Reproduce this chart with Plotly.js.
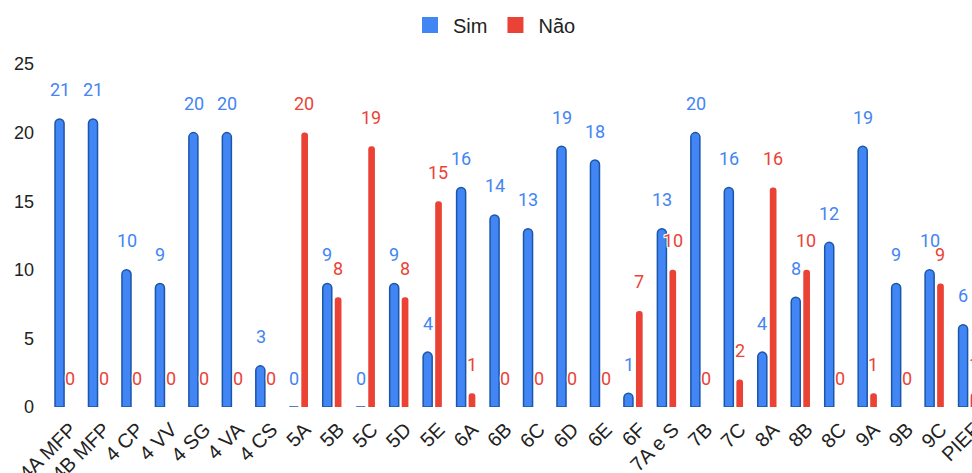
<!DOCTYPE html>
<html>
<head>
<meta charset="utf-8">
<script src="https://cdn.plot.ly/plotly-3.0.1.min.js"></script>
<style>
html,body{margin:0;padding:0;overflow:hidden;background:#fff;width:972px;height:473px;}
#chart{width:1000px;height:473px;}
</style>
</head>
<body>
<div id="chart"></div>
<script>
const categories = ["4A MFP","4B MFP","4 CP","4 VV","4 SG","4 VA","4 CS","5A","5B","5C","5D","5E","6A","6B","6C","6D","6E","6F","7A e S","7B","7C","8A","8B","8C","9A","9B","9C","PIEF"];
const simValues = [21,21,10,9,20,20,3,0,9,0,9,4,16,14,13,19,18,1,13,20,16,4,8,12,19,9,10,6];
const naoValues = [0,0,0,0,0,0,0,20,8,19,8,15,1,0,0,0,0,7,10,0,2,16,10,0,1,0,9,1];
const seriesNames = ["Sim","Não"];

const BLUE = "#4285f4", BLUE_DARK = "#1b56a8", RED = "#ea4335";
const halo = "1px 1px 0 #fff, -1px -1px 0 #fff, 1px -1px 0 #fff, -1px 1px 0 #fff, 0 1px 0 #fff, 0 -1px 0 #fff, 1px 0 0 #fff, -1px 0 0 #fff";

const traces = [
  {
    type: "bar", name: seriesNames[0], x: categories, y: simValues,
    width: 0.27, offset: -0.32, showlegend: false,
    marker: {color: BLUE, line: {color: BLUE_DARK, width: 1.5}, cornerradius: "50%"},
    hoverinfo: "x+y"
  },
  {
    type: "bar", name: seriesNames[1], x: categories, y: naoValues,
    width: 0.2, offset: 0.04, showlegend: false,
    marker: {color: RED, line: {width: 0}, cornerradius: "50%"},
    hoverinfo: "x+y"
  },
  // legend entries (no data drawn)
  {
    type: "scatter", mode: "markers", name: seriesNames[0], x: [null], y: [null],
    marker: {symbol: "square", size: 20, color: BLUE, line: {width: 0}}
  },
  {
    type: "scatter", mode: "markers", name: seriesNames[1], x: [null], y: [null],
    marker: {symbol: "square", size: 20, color: RED, line: {width: 0}}
  }
];

const annotations = [];
categories.forEach((c, i) => {
  annotations.push({x: c, y: simValues[i], xref: "x", yref: "y", text: String(simValues[i]),
    showarrow: false, xshift: -6, yshift: 29, yanchor: "middle", xanchor: "center",
    font: {family: "Roboto", size: 18, color: BLUE, shadow: halo}});
  annotations.push({x: c, y: naoValues[i], xref: "x", yref: "y", text: String(naoValues[i]),
    showarrow: false, xshift: 4.5, yshift: 29, yanchor: "middle", xanchor: "center",
    font: {family: "Roboto", size: 18, color: RED, shadow: halo}});
});

const layout = {
  width: 1000, height: 473,
  margin: {l: 49, r: 14, t: 64, b: 66},
  paper_bgcolor: "#fff", plot_bgcolor: "#fff",
  barmode: "overlay",
  showlegend: true,
  legend: {
    orientation: "h", xref: "container", yref: "container",
    x: 0.494, xanchor: "center", y: 0.947, yanchor: "middle",
    font: {family: "Liberation Sans", size: 20, color: "#222"},
    itemsizing: "trace", itemwidth: 36
  },
  xaxis: {
    type: "category", range: [-0.5, 27.5],
    tickangle: -45, tickfont: {family: "Liberation Sans", size: 20, color: "#222"},
    ticklabelstandoff: 6, ticklabelshift: 5,
    showgrid: false, zeroline: false, showline: false, ticks: "",
    automargin: false, fixedrange: true
  },
  yaxis: {
    range: [0, 25], tickvals: [0,5,10,15,20,25],
    tickfont: {family: "Liberation Sans", size: 18, color: "#222"},
    showgrid: false, zeroline: false, showline: false, ticks: "",
    ticklabelstandoff: 14, automargin: false, fixedrange: true
  },
  annotations: annotations,
  font: {family: "Liberation Sans"}
};

Plotly.newPlot("chart", traces, layout, {displayModeBar: false, staticPlot: true});
</script>
</body>
</html>
